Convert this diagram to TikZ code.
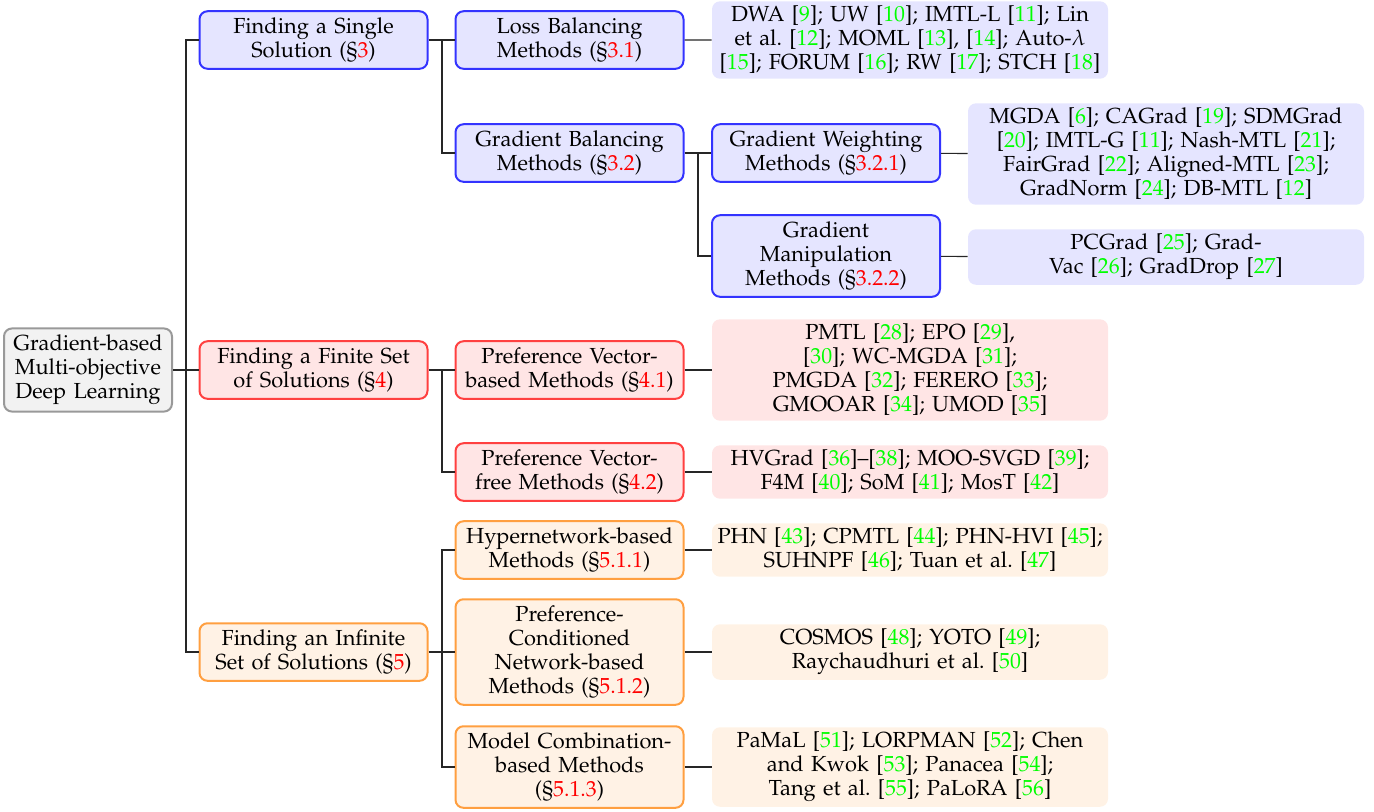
\documentclass[tikz,border=0pt]{standalone}
\usepackage[T1]{fontenc}
\usepackage{mathpazo}
\newcommand{\cit}[1]{[\textcolor{green}{#1}]}
\newcommand{\secn}[1]{(\S\textcolor{red}{#1})}
\colorlet{bluefill}{blue!10}
\colorlet{bluedraw}{blue!80}
\colorlet{redfill}{red!10}
\colorlet{reddraw}{red!75}
\colorlet{orgfill}{orange!10}
\colorlet{orgdraw}{orange!75}
\frenchspacing
\begin{document}
\begin{tikzpicture}[x=0.5pt,y=-0.5pt,
    every node/.style={font=\fontsize{10.9pt}{12pt}\selectfont},
    cat/.style={draw,rounded corners=4pt,line width=1pt,align=center,text width=108pt,inner xsep=3pt,inner ysep=3.3pt},
    lst/.style={rounded corners=4pt,align=center,text width=194pt,inner xsep=2pt,inner ysep=2.4pt},
    link/.style={line width=0.6pt,black!85}]
    \useasboundingbox (0,0) rectangle (1374,811);

    % root and first level
    \node[cat,text width=78pt,draw=gray!80,fill=gray!10] (root) at (88,370) {Gradient-based\\Multi-objective\\Deep Learning};
    \node[cat,draw=bluedraw,fill=bluefill] (single) at (313.5,40) {Finding a Single\\Solution \secn{3}};
    \node[cat,draw=reddraw,fill=redfill] (finite) at (313.5,370) {Finding a Finite Set\\of Solutions \secn{4}};
    \node[cat,draw=orgdraw,fill=orgfill] (infinite) at (313.5,652) {Finding an Infinite\\Set of Solutions \secn{5}};

    % second level
    \node[cat,draw=bluedraw,fill=bluefill] (loss) at (569.5,40) {Loss Balancing\\Methods \secn{3.1}};
    \node[cat,draw=bluedraw,fill=bluefill] (gradbal) at (569.5,153) {Gradient Balancing\\Methods \secn{3.2}};
    \node[cat,draw=reddraw,fill=redfill] (prefbased) at (569.5,370) {Preference Vector-\\based Methods \secn{4.1}};
    \node[cat,draw=reddraw,fill=redfill] (preffree) at (569.5,472) {Preference Vector-\\free Methods \secn{4.2}};
    \node[cat,draw=orgdraw,fill=orgfill] (hyper) at (569.5,550) {Hypernetwork-based\\Methods \secn{5.1.1}};
    \node[cat,draw=orgdraw,fill=orgfill] (cond) at (569.5,652) {Preference-\\Conditioned\\Network-based\\Methods \secn{5.1.2}};
    \node[cat,draw=orgdraw,fill=orgfill] (comb) at (569.5,767) {Model Combination-\\based Methods\\\secn{5.1.3}};

    % third level
    \node[cat,draw=bluedraw,fill=bluefill] (weight) at (826,153) {Gradient Weighting\\Methods \secn{3.2.1}};
    \node[cat,draw=bluedraw,fill=bluefill] (manip) at (826,256) {Gradient\\Manipulation\\Methods \secn{3.2.2}};

    % method lists
    \node[lst,fill=bluefill] (losslist) at (910,40) {DWA \cit{9}; UW \cit{10}; IMTL-L \cit{11}; Lin\\et al. \cit{12}; MOML \cit{13}, \cit{14}; Auto-$\lambda$\\\cit{15}; FORUM \cit{16}; RW \cit{17}; STCH \cit{18}};
    \node[lst,fill=bluefill] (weightlist) at (1166,154) {MGDA \cit{6}; CAGrad \cit{19}; SDMGrad\\\cit{20}; IMTL-G \cit{11}; Nash-MTL \cit{21};\\FairGrad \cit{22}; Aligned-MTL \cit{23};\\GradNorm \cit{24}; DB-MTL \cit{12}};
    \node[lst,fill=bluefill] (maniplist) at (1166,257) {PCGrad \cit{25}; Grad-\\Vac \cit{26}; GradDrop \cit{27}};
    \node[lst,fill=redfill] (prefbasedlist) at (910,370) {PMTL \cit{28}; EPO \cit{29},\\\cit{30}; WC-MGDA \cit{31};\\PMGDA \cit{32}; FERERO \cit{33};\\GMOOAR \cit{34}; UMOD \cit{35}};
    \node[lst,fill=redfill] (preffreelist) at (910,472) {HVGrad \cit{36}--\cit{38}; MOO-SVGD \cit{39};\\F4M \cit{40}; SoM \cit{41}; MosT \cit{42}};
    \node[lst,fill=orgfill] (hyperlist) at (910,550) {PHN \cit{43}; CPMTL \cit{44}; PHN-HVI \cit{45};\\SUHNPF \cit{46}; Tuan et al. \cit{47}};
    \node[lst,fill=orgfill] (condlist) at (910,652) {COSMOS \cit{48}; YOTO \cit{49};\\Raychaudhuri et al. \cit{50}};
    \node[lst,fill=orgfill] (comblist) at (910,767) {PaMaL \cit{51}; LORPMAN \cit{52}; Chen\\and Kwok \cit{53}; Panacea \cit{54};\\Tang et al. \cit{55}; PaLoRA \cit{56}};

    % branch points
    \coordinate (rootj) at (186,370);
    \coordinate (singlej) at (442,40);
    \coordinate (finitej) at (442,370);
    \coordinate (infinitej) at (442,652);
    \coordinate (gradbalj) at (698,153);

    \draw[link] (root) -- (rootj) (rootj) |- (single) (rootj) |- (infinite) (rootj) -- (finite);
    \draw[link] (single) -- (singlej) (singlej) -- (loss) (singlej) |- (gradbal);
    \draw[link] (gradbal) -- (gradbalj) (gradbalj) -- (weight) (gradbalj) |- (manip);
    \draw[link] (finite) -- (finitej) (finitej) -- (prefbased) (finitej) |- (preffree);
    \draw[link] (infinite) -- (infinitej) (infinitej) -- (cond) (infinitej) |- (hyper) (infinitej) |- (comb);
    \draw[link] (loss) -- (losslist) (weight) -- (weightlist) (manip) -- (maniplist);
    \draw[link] (prefbased) -- (prefbasedlist) (preffree) -- (preffreelist);
    \draw[link] (hyper) -- (hyperlist) (cond) -- (condlist) (comb) -- (comblist);
\end{tikzpicture}
\end{document}
